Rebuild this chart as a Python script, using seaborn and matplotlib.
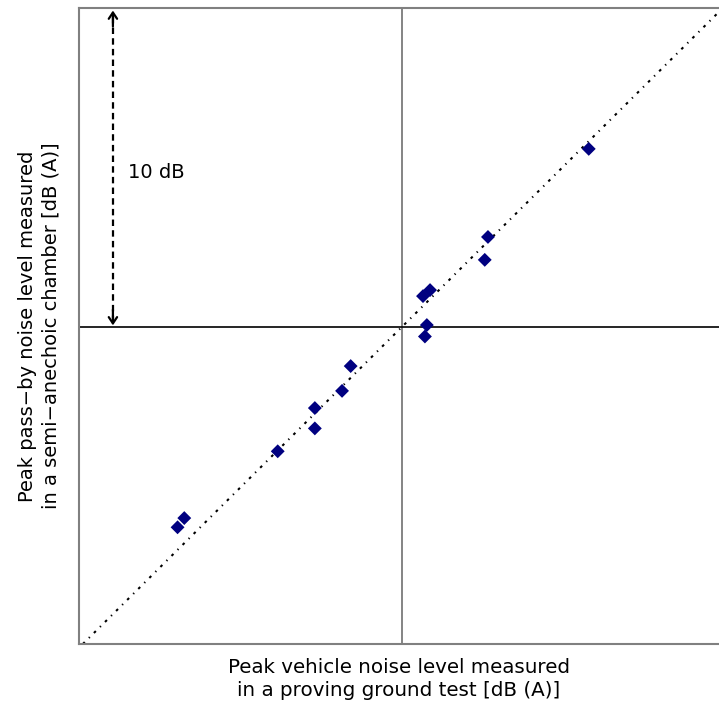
import matplotlib
matplotlib.use("Agg")
import matplotlib.pyplot as plt
import seaborn as sns
import pandas as pd

# Data: deviation from the mean level [dB]
ground_test = [5.84, 2.69, 2.59, 0.88, 0.66, 0.78, 0.72, -1.60, -1.87, -2.72, -2.72, -3.88, -6.80, -7.01]
chamber = [5.60, 2.83, 2.11, 1.16, 0.97, 0.06, -0.30, -1.23, -2.01, -2.55, -3.19, -3.91, -6.01, -6.30]
arrow_x = -9.03
arrow_span = [0.05, 9.95]
span_label = "10 dB"
xlabel = "Peak vehicle noise level measured\nin a proving ground test [dB (A)]"
ylabel = "Peak pass\u2212by noise level measured\nin a semi\u2212anechoic chamber [dB (A)]"

sns.set_style("white")
plt.rcParams['font.family'] = ['DejaVu Sans']
plt.rcParams['text.color'] = 'black'
plt.rcParams['axes.labelcolor'] = 'black'

df = pd.DataFrame({"ground": ground_test, "chamber": chamber})

fig = plt.figure(figsize=(7.19, 7.08), dpi=100)
ax = fig.add_axes([79/719, 1-644/708, 1-79/719, (644-8)/708])

ax.set_xlim(-10.09, 9.91)
ax.set_ylim(-9.97, 10.03)

# reference lines
ax.axvline(0, color="#707070", lw=1.2, zorder=1)
ax.axhline(0, color="black", lw=1.2, zorder=1)
ax.axline((0, 0), slope=1, color="black", lw=1.5, dashes=(1.3, 2.8, 0.6, 2.8), zorder=2)

sns.scatterplot(data=df, x="ground", y="chamber", marker="D", s=50, color="#000080",
                edgecolor="none", linewidth=0, ax=ax, zorder=3)

# 10 dB span arrow
ax.plot([arrow_x, arrow_x], [arrow_span[0] + 0.1, arrow_span[1] - 0.1], color="black", lw=1.6,
        dashes=(2.9, 1.9))
for tip, tail in [(arrow_span[1], arrow_span[1] - 0.5), (arrow_span[0], arrow_span[0] + 0.5)]:
    ax.annotate("", xy=(arrow_x, tip), xytext=(arrow_x, tail),
                arrowprops=dict(arrowstyle="->,head_length=0.45,head_width=0.3", color="black", lw=1.6,
                                shrinkA=0, shrinkB=0))
ax.text(-8.56, 4.87, span_label, ha="left", va="center", fontsize=14, color="black")

ax.set_xticks([])
ax.set_yticks([])
ax.set_xlabel(xlabel, fontsize=14.3, labelpad=10, linespacing=1.3, color="black")
ax.set_ylabel(ylabel, fontsize=14, labelpad=13, linespacing=1.3, color="black")

for side in ["left", "bottom", "top"]:
    ax.spines[side].set_color("#808080")
    ax.spines[side].set_linewidth(1.5)
ax.spines["right"].set_visible(False)

fig.savefig("out.png", dpi=100)
